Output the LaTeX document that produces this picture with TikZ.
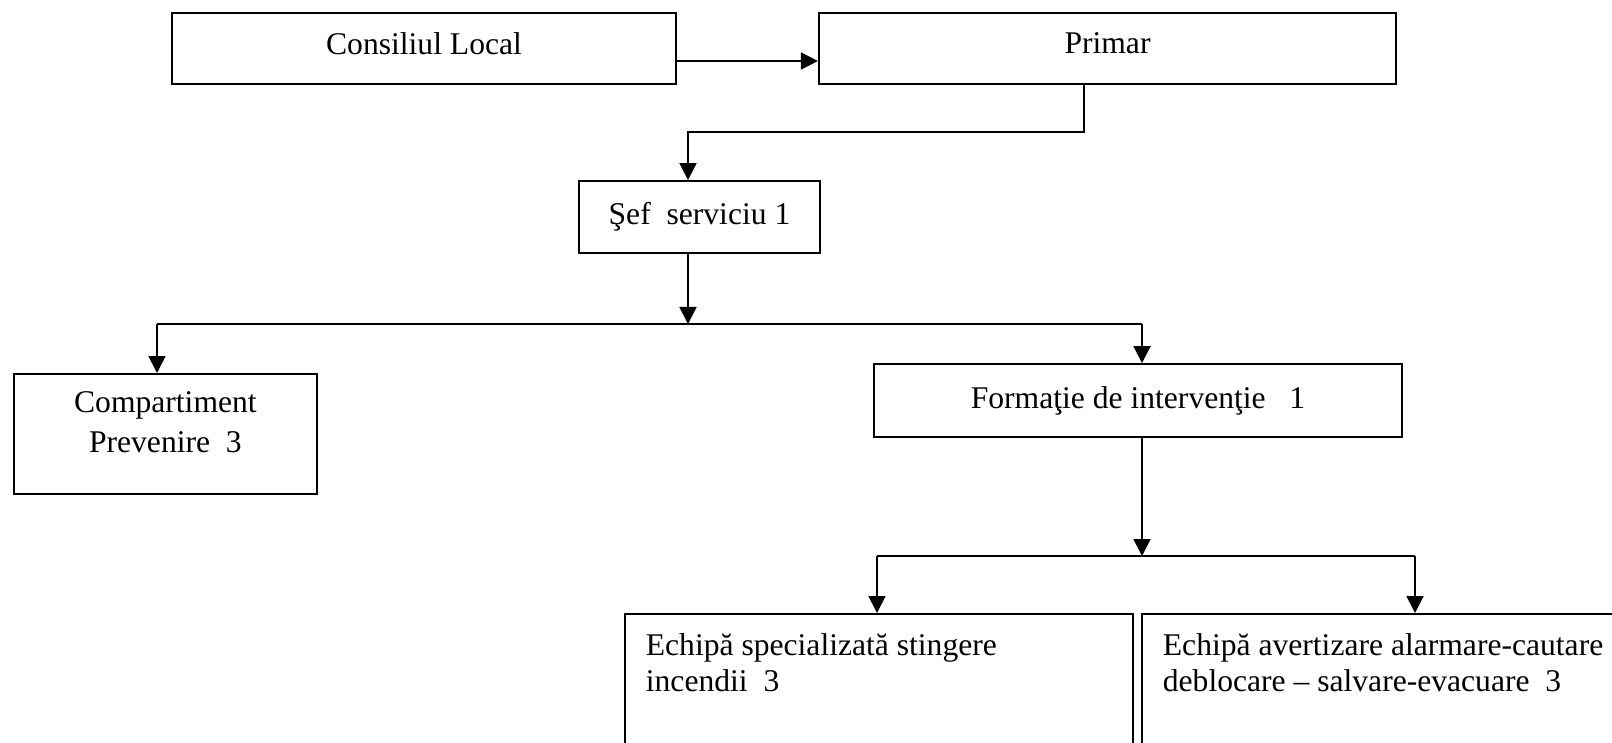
\documentclass[tikz,border=0pt]{standalone}
\usepackage{fontspec}
\setmainfont{Liberation Serif}
\usetikzlibrary{arrows.meta}

\begin{document}
\begin{tikzpicture}[x=0.5pt,y=-0.5pt]
      \tikzstyle{unit}=[draw,line width=0.9pt,inner sep=0pt,font=\fontsize{15.8}{20}\selectfont]
      \tikzstyle{team}=[unit,anchor=north west,inner xsep=10.5pt,inner ysep=10pt]
      \tikzstyle{link}=[line width=0.9pt,-{Triangle[length=8.5pt,width=8.5pt]}]
      \useasboundingbox (0,0) rectangle (1612,743);
      \clip (0,0) rectangle (1612,743);
      \node[unit,line width=1.1pt,minimum width=252pt,minimum height=35.5pt,text depth=5pt] (consiliu) at (424,48.5) {Consiliul Local};
      \node[unit,line width=1.1pt,minimum width=288.5pt,minimum height=35.5pt,text depth=5pt] (primar) at (1107.5,48.5) {Primar};
      \node[unit,minimum width=120.5pt,minimum height=36pt] (sef) at (699.5,217) {Şef\ \ serviciu 1};
      \node[unit,anchor=north west,inner ysep=9pt] (comp) at (13,373) {\parbox[t][42pt][t]{151.5pt}{\centering Compartiment\\Prevenire\ \ 3}};
      \node[unit,minimum width=264pt,minimum height=36.5pt] (form) at (1138,400.5) {Formaţie de intervenţie\ \ \ 1};
      \node[team] (stingere) at (624,613) {\parbox[t][100pt][t]{233pt}{\raggedright\fontsize{15.8}{18}\selectfont Echipă specializată stingere\\incendii\ \ 3}};
      \node[team] (evacuare) at (1141,613) {\parbox[t][100pt][t]{233pt}{\raggedright\fontsize{15.8}{18}\selectfont Echipă avertizare alarmare-cautare\\deblocare – salvare-evacuare\ \ 3}};
      \coordinate (k1) at (688,132);
      \coordinate (k2) at (688,324);
      \coordinate (k3) at (157,324);
      \coordinate (k4) at (1142,324);
      \coordinate (k5) at (1142,556);
      \coordinate (k6) at (877,556);
      \coordinate (k7) at (1415,556);
      \draw[link] ([yshift=-6.25pt]consiliu.east) -- ([yshift=-6.25pt]primar.west);
      \draw[link] ([xshift=-11.75pt]primar.south) |- (k1) -- (k1 |- sef.north);
      \draw[link] (k2 |- sef.south) -- (k2);
      \draw[line width=0.9pt] (k3) -- (k4);
      \draw[link] (k3) -- (k3 |- comp.north);
      \draw[link] (k4) -- (k4 |- form.north);
      \draw[link] (k5 |- form.south) -- (k5);
      \draw[line width=0.9pt] (k6) -- (k7);
      \draw[link] (k6) -- (k6 |- stingere.north);
      \draw[link] (k7) -- (k7 |- evacuare.north);
\end{tikzpicture}
\end{document}
